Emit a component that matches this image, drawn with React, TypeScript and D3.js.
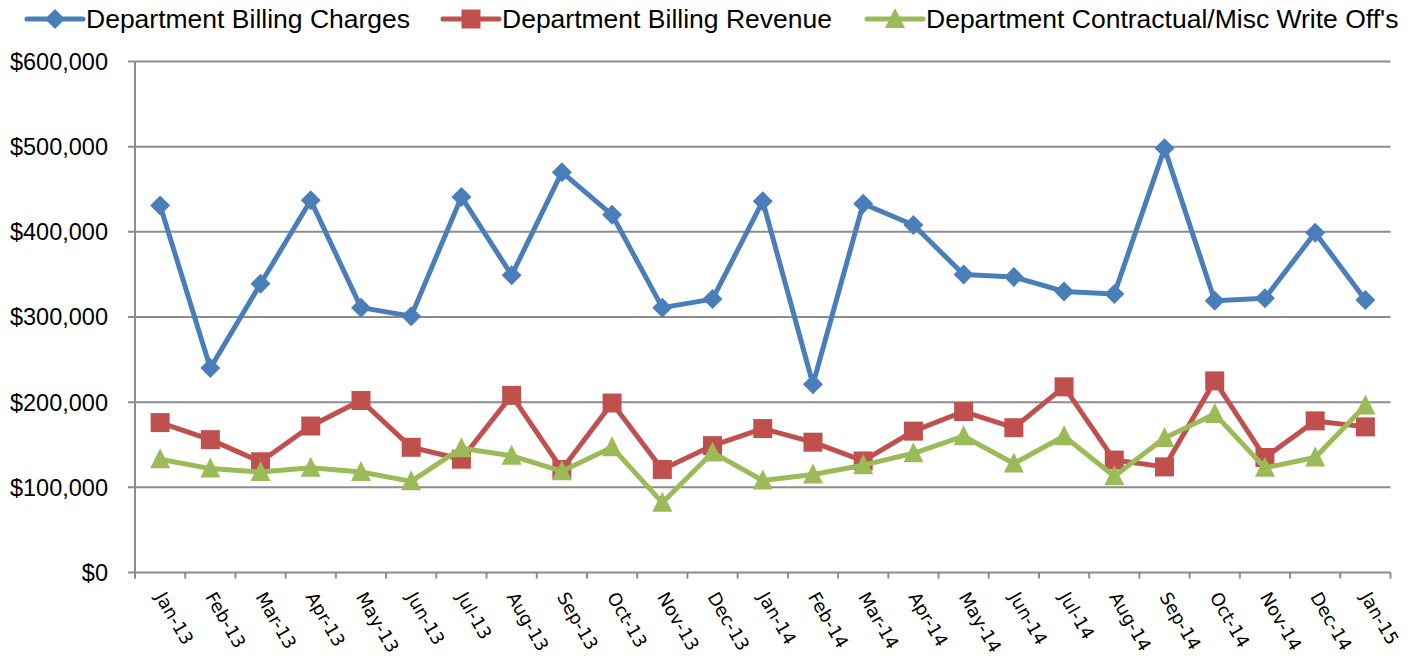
import { useEffect, useRef } from 'react'
import * as d3 from 'd3'

const months = [
  'Jan-13', 'Feb-13', 'Mar-13', 'Apr-13', 'May-13', 'Jun-13', 'Jul-13', 'Aug-13', 'Sep-13', 'Oct-13', 'Nov-13', 'Dec-13',
  'Jan-14', 'Feb-14', 'Mar-14', 'Apr-14', 'May-14', 'Jun-14', 'Jul-14', 'Aug-14', 'Sep-14', 'Oct-14', 'Nov-14', 'Dec-14',
  'Jan-15',
]

const charges = [
  431000, 240000, 339000, 437000, 311000, 301000, 441000, 349000, 470000, 420000, 311000, 321000,
  436000, 221000, 433000, 408000, 350000, 347000, 330000, 327000, 498000, 319000, 322000, 399000,
  320000,
]

const revenue = [
  176000, 156000, 130000, 172000, 202000, 147000, 133000, 208000, 121000, 199000, 121000, 149000,
  169000, 153000, 131000, 166000, 189000, 170000, 218000, 132000, 124000, 225000, 135000, 178000,
  171000,
]

const writeOffs = [
  133000, 122000, 118000, 123000, 118000, 107000, 146000, 137000, 119000, 147000, 82000, 141000,
  108000, 115000, 126000, 140000, 160000, 128000, 160000, 113000, 158000, 186000, 123000, 135000,
  196000,
]

const yTicks = [0, 100000, 200000, 300000, 400000, 500000, 600000]

const seriesNames = [
  'Department Billing Charges',
  'Department Billing Revenue',
  "Department Contractual/Misc Write Off's",
]

// excel-ish marker shapes
const markerPaths = [
  'M0,-10L10,0L0,10L-10,0Z',
  'M-9.5,-9.5H9.5V9.5H-9.5Z',
  'M0,-11L10,9L-10,9Z',
]

export default function App() {
  const ref = useRef<SVGSVGElement>(null)

  useEffect(() => {
    const svg = d3.select(ref.current)
    svg.selectAll('*').remove()

    const left = 135
    const right = 1390.5
    const top = 61.5
    const bottom = 572.5

    const x = d3.scaleBand().domain(months).range([left, right])
    const y = d3.scaleLinear().domain([0, 600000]).range([bottom, top])
    const cx = (m: string) => (x(m) as number) + x.bandwidth() / 2

    const gridColor = '#8c8c8c'

    // gridlines
    svg.append('g')
      .selectAll('line')
      .data(yTicks)
      .join('line')
      .attr('x1', left - 7)
      .attr('x2', right)
      .attr('y1', d => y(d))
      .attr('y2', d => y(d))
      .attr('stroke', gridColor)
      .attr('stroke-width', 2)

    // y axis line
    svg.append('line')
      .attr('x1', left).attr('x2', left)
      .attr('y1', top).attr('y2', bottom + 6)
      .attr('stroke', gridColor)
      .attr('stroke-width', 2)

    // x ticks at band edges
    const edges = months.map(m => x(m) as number).concat([right])
    svg.append('g')
      .selectAll('line')
      .data(edges)
      .join('line')
      .attr('x1', d => d).attr('x2', d => d)
      .attr('y1', bottom).attr('y2', bottom + 6)
      .attr('stroke', gridColor)
      .attr('stroke-width', 2)

    const fmt = d3.format('$,')
    svg.append('g')
      .selectAll('text')
      .data(yTicks)
      .join('text')
      .attr('x', 108)
      .attr('y', d => y(d))
      .attr('dy', '0.36em')
      .attr('text-anchor', 'end')
      .attr('font-family', '"Liberation Sans", Arial, sans-serif')
      .attr('font-size', 23.5)
      .attr('fill', '#000')
      .text(d => fmt(d))

    svg.append('g')
      .selectAll('text')
      .data(months)
      .join('text')
      .attr('transform', d => `translate(${cx(d)},${bottom + 21}) rotate(60)`)
      .attr('dy', '0.35em')
      .attr('font-family', '"DejaVu Sans", Verdana, sans-serif')
      .attr('font-size', 18)
      .attr('fill', '#000')
      .text(d => d)

    const colors = ['#4a7ebb', '#c0504d', '#9bbb59']
    const data = [charges, revenue, writeOffs]

    const line = d3.line<number>()
      .x((_, i) => cx(months[i]))
      .y(d => y(d))

    data.forEach((vals, s) => {
      svg.append('path')
        .datum(vals)
        .attr('fill', 'none')
        .attr('stroke', colors[s])
        .attr('stroke-width', 5)
        .attr('stroke-linejoin', 'round')
        .attr('d', line)

      svg.append('g')
        .selectAll('path')
        .data(vals)
        .join('path')
        .attr('transform', (d, i) => `translate(${cx(months[i])},${y(d)})`)
        .attr('d', markerPaths[s])
        .attr('fill', colors[s])
    })

    // legend
    const legendX = [27, 443, 867]
    seriesNames.forEach((name, s) => {
      const g = svg.append('g').attr('transform', `translate(${legendX[s]},19)`)
      g.append('line')
        .attr('x1', 0).attr('x2', 56)
        .attr('y1', 0).attr('y2', 0)
        .attr('stroke', colors[s])
        .attr('stroke-width', 5)
        .attr('stroke-linecap', 'round')
      g.append('path')
        .attr('transform', 'translate(28,0)')
        .attr('d', markerPaths[s])
        .attr('fill', colors[s])
      g.append('text')
        .attr('x', 59)
        .attr('y', 9)
        .attr('font-family', '"Liberation Sans", Arial, sans-serif')
        .attr('font-size', 26.5)
        .attr('fill', '#000')
        .text(name)
    })
  }, [])

  return (
    <svg
      ref={ref}
      width={1421}
      height={656}
      style={{ position: 'absolute', left: 0, top: 0, background: '#fff' }}
    />
  )
}
